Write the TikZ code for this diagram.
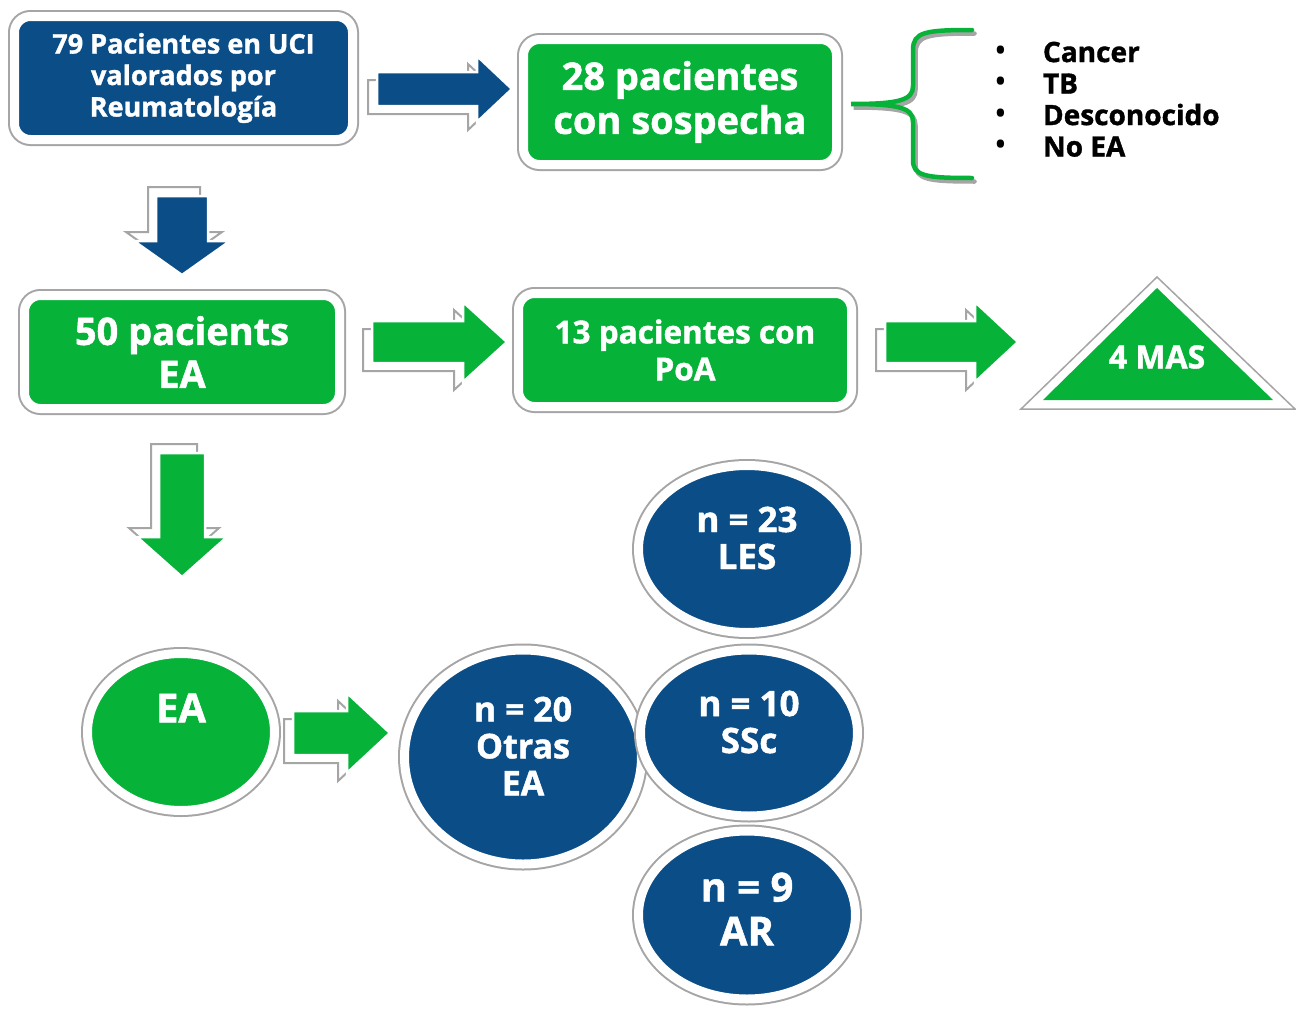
\documentclass[tikz,border=0pt]{standalone}
\usepackage{fontspec}
\setmainfont{Open Sans}[BoldFeatures={FakeBold=1.3}]
\usetikzlibrary{shapes.geometric}
\definecolor{uciblue}{RGB}{11,77,135}
\definecolor{eagreen}{RGB}{6,178,56}
\definecolor{framegray}{RGB}{165,165,165}
\newcommand{\txtsize}[2]{\fontsize{#1}{#2}\selectfont\bfseries}
\newcommand{\itemdot}{{\mdseries\fontsize{34}{22}\selectfont\textbullet}}

\tikzset{
	pics/blockarrow/.style n args={5}{code={
		\draw[backarrow, shift={(-9,8)}] (0,0) -- (-#1,#2) -- (-#1,#4)
			-- ({-#1-#3},#4) -- ({-#1-#3},-#4) -- (-#1,-#4) -- (-#1,-#2) -- cycle;
		\draw[fill=#5, draw=white, line width=2.5pt] (0,0) -- (-#1,#2) -- (-#1,#4)
			-- ({-#1-#3},#4) -- ({-#1-#3},-#4) -- (-#1,-#4) -- (-#1,-#2) -- cycle;
	}}
}

\begin{document}
\begin{tikzpicture}[
		x=1pt, y=-1pt,
		framed/.style={fill=#1, draw=white, line width=9pt,
			preaction={draw=framegray, line width=13pt},
			text=white, inner sep=0pt, align=center},
		box/.style={framed=#1, rectangle, rounded corners=16pt},
		blob/.style={framed=#1, ellipse},
		blobtext/.style={text=white, align=center, inner sep=0pt, yshift=11pt},
		backarrow/.style={fill=white, draw=framegray, line width=2pt},
		brace/.style={line width=4.5pt, line cap=round}
	]
	\useasboundingbox (0,0) rectangle (1296,1009);

	% top row
	\node[box=uciblue, minimum width=338pt, minimum height=123pt,
		font=\txtsize{27}{31.5}] (uci) at (183.5,78)
		{79 Pacientes en UCI\\valorados por\\Reumatología};
	\pic at (512,89) {blockarrow={35}{33}{100}{17}{uciblue}};
	\node[box=eagreen, minimum width=313pt, minimum height=125pt,
		font=\txtsize{38}{44}] (sospecha) at (680,102)
		{28 pacientes\\con sospecha};

	\foreach \shade/\col in {(2.5,3.5)/framegray, (0,0)/eagreen}
		\draw[brace, draw=\col, shift={\shade}] (972,30)
			.. controls (925,30) and (913,32) .. (913,50) -- (913,86)
			.. controls (913,100) and (900,104) .. (851,104)
			.. controls (900,104) and (913,108) .. (913,122) -- (913,160)
			.. controls (913,176) and (925,178) .. (972,178);
	\node[anchor=west, inner sep=0pt, font=\txtsize{28}{31.5}] (causas) at (994,103)
		{\begin{tabular}{@{}l@{\hspace{36pt}}l@{}}
			\itemdot & Cancer\\
			\itemdot & TB\\
			\itemdot & Desconocido\\
			\itemdot & No EA
		\end{tabular}};

	% second row
	\pic[rotate=-90] at (182,275) {blockarrow={34}{48}{45}{26}{uciblue}};
	\node[box=eagreen, minimum width=315pt, minimum height=113pt,
		font=\txtsize{38}{43}] (pacEA) at (182,352) {50 pacients\\EA};
	\pic at (507,342) {blockarrow={44}{40}{91}{21}{eagreen}};
	\node[box=eagreen, minimum width=333pt, minimum height=113pt,
		font=\txtsize{31.5}{37}] (poa) at (685,350) {13 pacientes con\\PoA};
	\pic at (1018,342) {blockarrow={43}{40}{90}{21}{eagreen}};
	\draw[fill=white, draw=framegray, line width=1.5pt]
		(1157,277) -- (1295,409) -- (1021,409) -- cycle;
	\fill[eagreen] (1157,288) -- (1273,400) -- (1043,400) -- cycle;
	\node[text=white, font=\txtsize{32}{36}] (mas) at (1157,357) {4 MAS};

	% bottom part
	\pic[rotate=-90] at (182,577) {blockarrow={40}{45}{84}{23}{eagreen}};
	\node[blob=eagreen, minimum width=187pt, minimum height=157pt,
		label={[blobtext, yshift=13pt, font=\txtsize{40}{44}]center:EA}] (ea) at (181,732) {};
	\pic at (390,733) {blockarrow={43}{40}{54}{22}{eagreen}};
	\node[blob=uciblue, minimum width=237pt, minimum height=214pt,
		label={[blobtext, font=\txtsize{34}{37}]center:{n = 20\\Otras\\EA}}] (otras) at (523,757) {};
	\node[blob=uciblue, minimum width=217pt, minimum height=167pt,
		label={[blobtext, font=\txtsize{35}{37}]center:{n = 23\\LES}}] (les) at (747,549) {};
	\node[blob=uciblue, minimum width=217pt, minimum height=166pt,
		label={[blobtext, font=\txtsize{35}{37}]center:{n = 10\\SSc}}] (ssc) at (749,733) {};
	\node[blob=uciblue, minimum width=217pt, minimum height=168pt,
		label={[blobtext, yshift=-5pt, font=\txtsize{40}{44}]center:{n = 9\\AR}}] (ar) at (747,915) {};
\end{tikzpicture}
\end{document}
